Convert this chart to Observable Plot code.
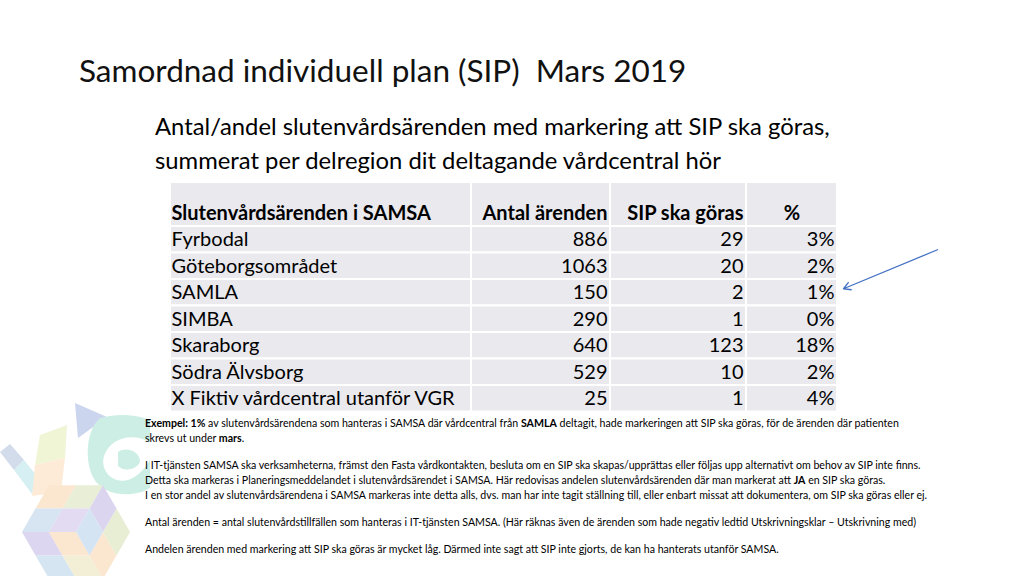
<!DOCTYPE html>
<html>
<head>
<meta charset="utf-8">
<script src="https://cdn.jsdelivr.net/npm/d3@7"></script>
<script src="https://cdn.jsdelivr.net/npm/@observablehq/plot@0.6"></script>
<style>
  html, body { margin: 0; padding: 0; background: #ffffff; }
  #slide { position: relative; width: 1024px; height: 576px; overflow: hidden; font-family: Lato, "Open Sans", sans-serif; color: #000; }
  #deco { position: absolute; left: 0; top: 380px; }
  #title { position: absolute; left: 79px; top: 50px; font-size: 31.5px; line-height: 40px; font-weight: 400; color: #111; white-space: pre; }
  #subtitle { position: absolute; left: 155px; top: 109px; font-size: 23.8px; line-height: 34px; white-space: nowrap; }
  #chart { position: absolute; left: 0; top: 170px; }
  #notes { position: absolute; left: 145px; top: 416px; font-size: 10.6px; line-height: 15px; white-space: nowrap; }
  #notes p { margin: 0 0 12px 0; }
</style>
</head>
<body>
<div id="slide">
  <svg id="deco" width="160" height="196"></svg>
  <div id="title"></div>
  <div id="subtitle"></div>
  <div id="chart"></div>
  <div id="notes"></div>
</div>
<script>
// ---- Data ----
const titleText = "Samordnad individuell plan (SIP)  Mars 2019";
const subtitleLines = [
  "Antal/andel slutenvårdsärenden med markering att SIP ska göras,",
  "summerat per delregion dit deltagande vårdcentral hör"
];
const headers = ["Slutenvårdsärenden i SAMSA", "Antal ärenden", "SIP ska göras", "%"];
const regions = ["Fyrbodal", "Göteborgsområdet", "SAMLA", "SIMBA", "Skaraborg", "Södra Älvsborg", "X Fiktiv vårdcentral utanför VGR"];
const antal = [886, 1063, 150, 290, 640, 529, 25];
const sipCount = [29, 20, 2, 1, 123, 10, 1];
const pctLabels = ["3%", "2%", "1%", "0%", "18%", "2%", "4%"];
const highlightRegion = "SAMLA";
const notesHtml = [
  "<b>Exempel: 1%</b> av slutenvårdsärendena som hanteras i SAMSA där vårdcentral från <b>SAMLA</b> deltagit, hade markeringen att SIP ska göras, för de ärenden där patienten<br>skrevs ut under <b>mars</b>.",
  "I IT-tjänsten SAMSA ska verksamheterna, främst den Fasta vårdkontakten, besluta om en SIP ska skapas/upprättas eller följas upp alternativt om behov av SIP inte finns.<br>Detta ska markeras i Planeringsmeddelandet i slutenvårdsärendet i SAMSA. Här redovisas andelen slutenvårdsärenden där man markerat att <b>JA</b> en SIP ska göras.<br>I en stor andel av slutenvårdsärendena i SAMSA markeras inte detta alls, dvs. man har inte tagit ställning till, eller enbart missat att dokumentera, om SIP ska göras eller ej.",
  "Antal ärenden = antal slutenvårdstillfällen som hanteras i IT-tjänsten SAMSA. (Här räknas även de ärenden som hade negativ ledtid Utskrivningsklar – Utskrivning med)",
  "Andelen ärenden med markering att SIP ska göras är mycket låg. Därmed inte sagt att SIP inte gjorts, de kan ha hanterats utanför SAMSA."
];

// ---- Text blocks ----
document.getElementById("title").textContent = titleText;
document.getElementById("subtitle").innerHTML = subtitleLines.map(s => `<div>${s}</div>`).join("");
document.getElementById("notes").innerHTML = notesHtml.map(s => `<p>${s}</p>`).join("");

// ---- Table layout (layout only) ----
const colW = [301, 139, 136, 91];
const headH = 44, rowH = 26.5;
const colStart = colW.map((w, i) => d3.sum(colW.slice(0, i)));
const totalW = d3.sum(colW);
const totalH = headH + rowH * regions.length;
const rowTop = r => r === 0 ? 0 : headH + (r - 1) * rowH;
const rowBot = r => r === 0 ? headH : headH + r * rowH;

const rows = regions.map((name, i) => [name, String(antal[i]), String(sipCount[i]), pctLabels[i]]);
const allRows = [headers, ...rows];

const cells = [];
const texts = [];
allRows.forEach((row, r) => {
  row.forEach((val, c) => {
    cells.push({x1: colStart[c], x2: colStart[c] + colW[c], y1: rowTop(r), y2: rowBot(r)});
    const header = r === 0;
    let anchor, x;
    if (c === 0) { anchor = "start"; x = colStart[c] + 1; }
    else if (header && c === 3) { anchor = "middle"; x = colStart[c] + colW[c] / 2; }
    else { anchor = "end"; x = colStart[c] + colW[c] - 3; }
    texts.push({label: val, x, y: header ? headH - 13 : (rowTop(r) + rowBot(r)) / 2, anchor, weight: header ? "bold" : "normal"});
  });
});

const hi = regions.indexOf(highlightRegion) + 1;
const hiY = (rowTop(hi) + rowBot(hi)) / 2 - 4;
const arrowData = [{x1: totalW + 100, y1: hiY - 39, x2: totalW + 6, y2: hiY}];

const marginLeft = 170, marginTop = 12, marginBottom = 8;
const plot = Plot.plot({
  width: 1024,
  height: marginTop + totalH + marginBottom,
  marginLeft,
  marginRight: 1024 - marginLeft - totalW,
  marginTop,
  marginBottom,
  x: {type: "linear", domain: [0, totalW], axis: null},
  y: {type: "linear", domain: [totalH, 0], axis: null},
  style: {fontFamily: "Lato, 'Open Sans', sans-serif", background: "transparent", overflow: "visible"},
  marks: [
    Plot.rect(cells, {x1: "x1", x2: "x2", y1: "y1", y2: "y2", fill: "#e9e9ee", stroke: "#ffffff", strokeWidth: 2}),
    ...["start", "middle", "end"].flatMap(a => ["normal", "bold"].map(w =>
      Plot.text(texts.filter(t => t.anchor === a && t.weight === w), {
        x: "x", y: "y", text: "label", textAnchor: a, fontWeight: w, fontSize: 20, fill: "#000"
      })
    )),
    Plot.arrow(arrowData, {x1: "x1", y1: "y1", x2: "x2", y2: "y2", stroke: "#4472c4", strokeWidth: 1.3, headLength: 9, inset: 0, bend: 0})
  ]
});
document.getElementById("chart").appendChild(plot);

// ---- Decorative logo (faint, bottom-left) ----
const deco = d3.select("#deco");
const poly = (pts, fill) => deco.append("polygon").attr("points", pts.map(p => p.join(",")).join(" ")).attr("fill", fill);
// diagonal band (blue-grey / cyan)
poly([[0,72],[10,64],[24,80],[14,90]], "#d3dcea");
poly([[14,90],[24,80],[40,100],[32,114]], "#d6eff2");
// vertical band (yellow-green / peach)
poly([[40,55],[67,45],[65,78],[35,85]], "#f0f5d6");
poly([[35,85],[65,78],[61,112],[32,116]], "#fdebd7");
// triangle
poly([[75,23],[107,37],[78,58]], "#cbd5ee");
// teal swirl
deco.append("path")
  .attr("d", "M100,38 C128,30 150,40 150,40 L150,62 C132,52 110,58 104,76 C100,90 112,104 128,100 C140,96 146,86 150,80 L150,108 C138,116 112,118 98,104 C84,90 84,52 100,38 Z")
  .attr("fill", "#cdeee4");
deco.append("path")
  .attr("d", "M118,72 C128,66 140,72 140,82 C136,90 124,92 118,86 Z")
  .attr("fill", "#cdeee4");
// hexagon cube pattern (flat-top)
const C = [76, 152], R = 54;
const V = d3.range(6).map(k => { const a = k * Math.PI / 3; return [C[0] + R * Math.cos(a), C[1] - R * Math.sin(a)]; });
const mid = (a, b) => [(a[0] + b[0]) / 2, (a[1] + b[1]) / 2];
const rhombi = [[V[1], V[2], V[3], C], [V[3], V[4], V[5], C], [V[5], V[0], V[1], C]];
const palette = [["#e9efd6", "#fbe7d0", "#d7e4f2", "#e2dbf1"], ["#dcd6f0", "#d6e5f2", "#f2efd6", "#fbe6cf"], ["#fbe7d0", "#e8eed4", "#dcd5ef", "#d5e4f3"]];
rhombi.forEach(([a, b, c, d], i) => {
  const ab = mid(a, b), bc = mid(b, c), cd = mid(c, d), da = mid(d, a), o = mid(b, d);
  [[a, ab, o, da], [ab, b, bc, o], [o, bc, c, cd], [da, o, cd, d]].forEach((q, j) => poly(q, palette[i][j]));
});
</script>
</body>
</html>
